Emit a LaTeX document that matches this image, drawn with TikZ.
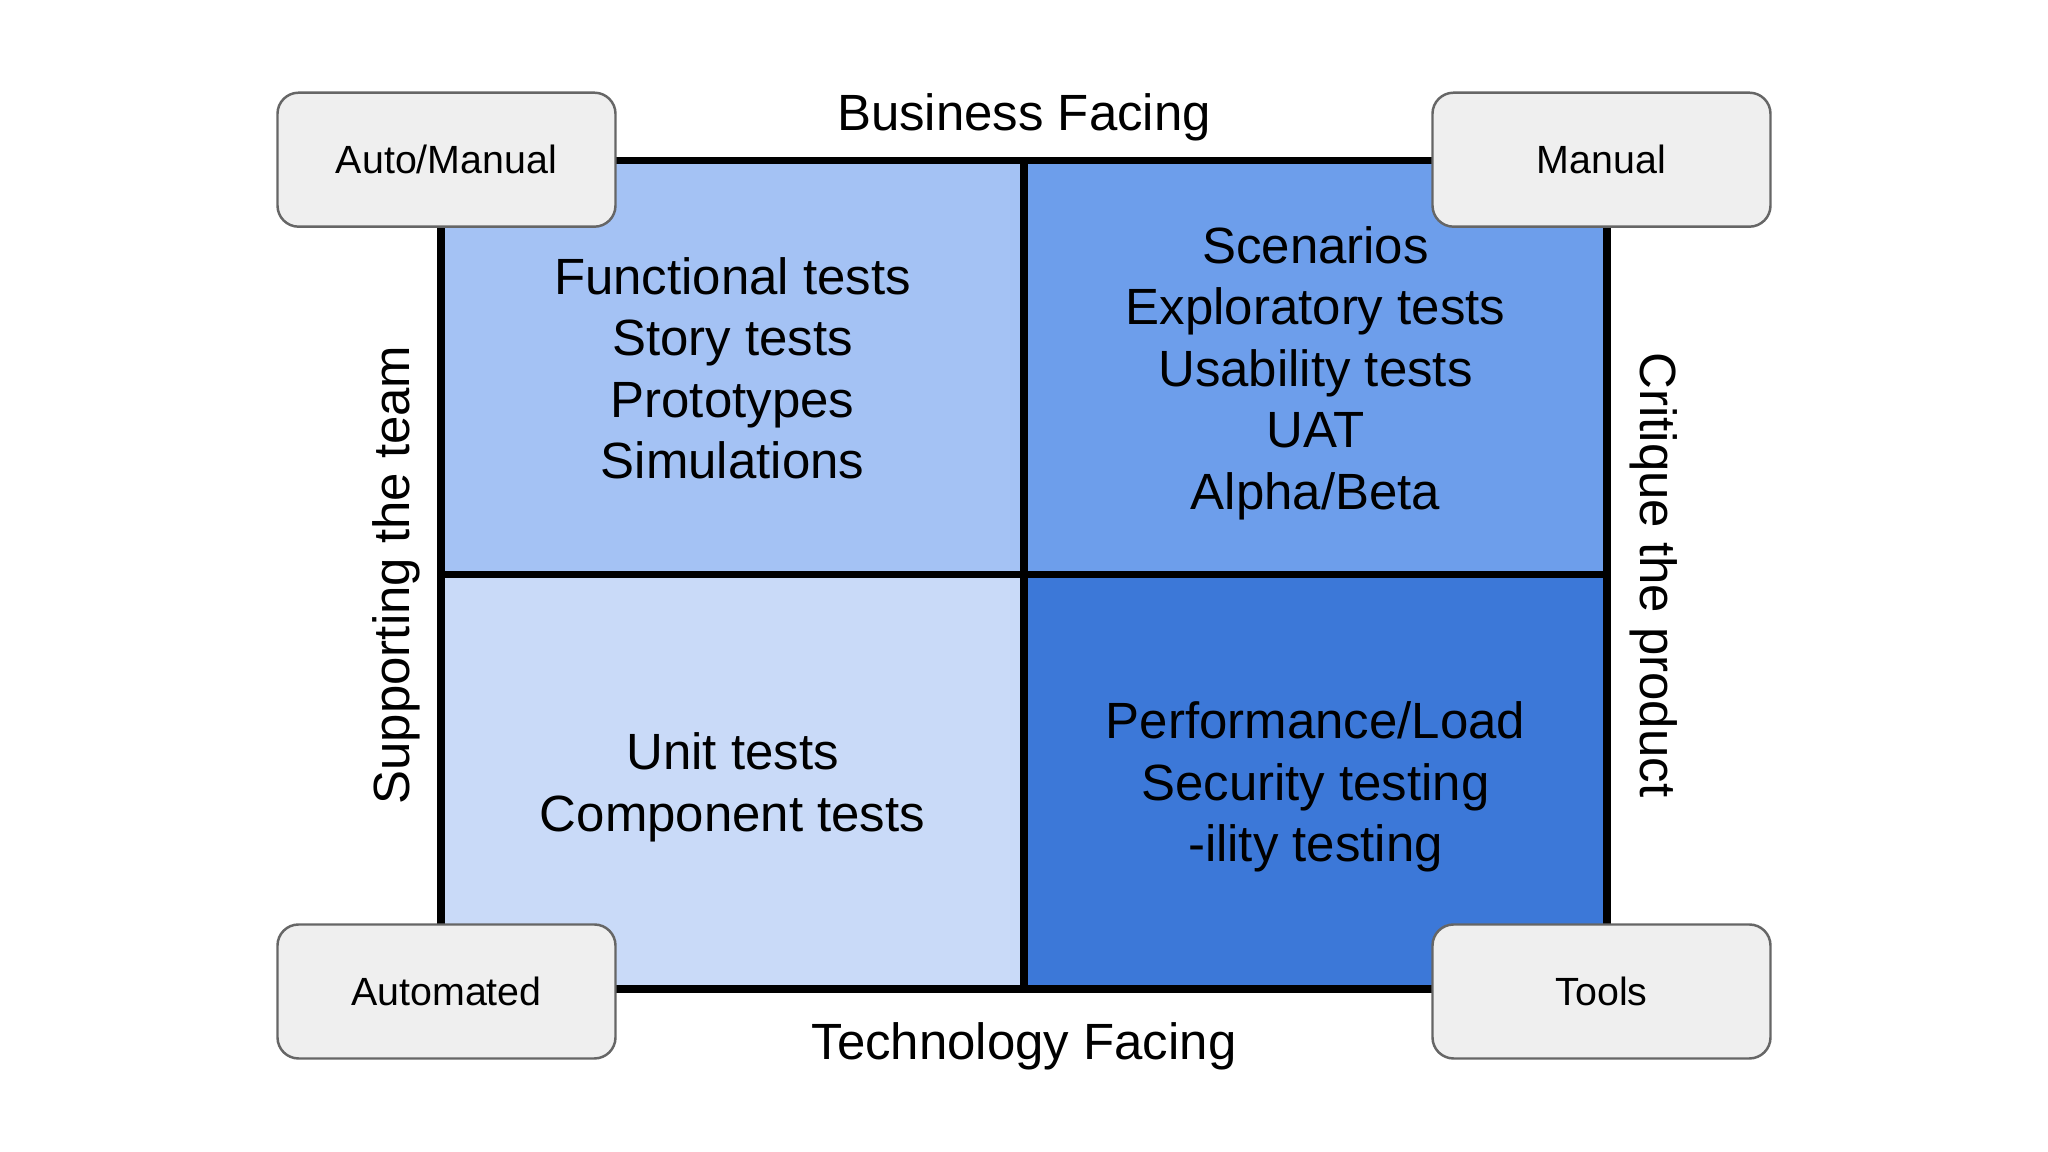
\documentclass[tikz,border=0pt]{standalone}
\usepackage{fontspec}
\setmainfont{Liberation Sans}
\usepackage{tikz}
\usetikzlibrary{positioning}
\definecolor{quadtl}{HTML}{A4C2F4}
\definecolor{quadtr}{HTML}{6D9EEB}
\definecolor{quadbl}{HTML}{C9DAF8}
\definecolor{quadbr}{HTML}{3C78D8}
\definecolor{boxfill}{HTML}{EFEFEF}
\definecolor{boxline}{HTML}{666666}
\tikzstyle{quad}=[rectangle,draw=black,line width=2pt,outer sep=0pt,inner sep=0pt,
                  minimum width=5.83cm,minimum height=4.14cm,align=center,text depth=0pt,
                  font=\fontsize{14.5}{17.5}\selectfont]
\tikzstyle{cornerbox}=[rectangle,rounded corners=6pt,draw=boxline,fill=boxfill,line width=0.7pt,
                  minimum width=3.38cm,minimum height=1.34cm,font=\fontsize{11.2}{13}\selectfont]
\tikzstyle{axislabel}=[inner sep=0pt,font=\fontsize{14.5}{17}\selectfont]

\begin{document}
\begin{tikzpicture}
      \useasboundingbox (0,0) rectangle (20.48,11.52);
      \fill[white] (0,0) rectangle (20.48,11.52);

      \node[quad,fill=quadtl] (tl) at (7.325,7.84) {Functional tests\\Story tests\\Prototypes\\Simulations};
      \node[quad,fill=quadtr,right=0pt of tl] (tr) {Scenarios\\Exploratory tests\\Usability tests\\UAT\\Alpha/Beta};
      \node[quad,fill=quadbl,below=0pt of tl] (bl) {Unit tests\\Component tests};
      \node[quad,fill=quadbr,right=0pt of bl] (br) {Performance/Load\\Security testing\\-ility testing};

      \node[cornerbox,xshift=0.055cm,yshift=0.013cm] (automanual) at (tl.north west) {Auto/Manual};
      \node[cornerbox,xshift=-0.055cm,yshift=0.013cm] (manual) at (tr.north east) {Manual};
      \node[cornerbox,xshift=0.055cm,yshift=-0.025cm] (automated) at (bl.south west) {Automated};
      \node[cornerbox,xshift=-0.055cm,yshift=-0.025cm] (tools) at (br.south east) {Tools};

      \node[axislabel,anchor=base] (business) at (10.24,10.21) {Business Facing};
      \node[axislabel,anchor=base] (technology) at (10.24,0.92) {Technology Facing};
      \node[axislabel,anchor=base,rotate=90] (supporting) at (4.09,5.77) {Supporting the team};
      \node[axislabel,anchor=base,rotate=-90] (critique) at (16.40,5.77) {Critique the product};
    \end{tikzpicture}
\end{document}
